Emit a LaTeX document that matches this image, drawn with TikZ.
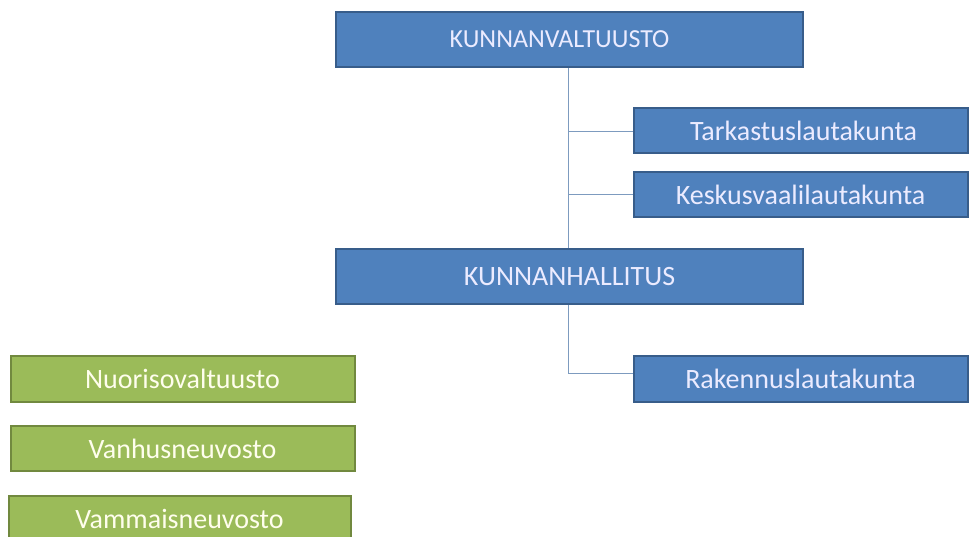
\documentclass[tikz,border=0pt]{standalone}
\usepackage{fontspec}
\setmainfont{Carlito}
\definecolor{bfill}{HTML}{4F81BD}
\definecolor{bdraw}{HTML}{385D8A}
\definecolor{gfill}{HTML}{9BBB59}
\definecolor{gdraw}{HTML}{71893F}
\definecolor{conn}{HTML}{7D9BBF}
\begin{document}
\begin{tikzpicture}[x=1pt,y=-1pt,
  boxbase/.style={line width=2pt,inner sep=0pt,font=\fontsize{28}{32}\selectfont},
  bluebox/.style={boxbase,draw=bdraw,fill=bfill,text=white!92!blue},
  greenbox/.style={boxbase,draw=gdraw,fill=gfill,text=white!93!yellow},
  capsfont/.style={font=\fontsize{26}{30}\selectfont},
  link/.style={draw=conn,line width=1pt}]
\useasboundingbox (0,0) rectangle (969,537);
\begin{scope}
\clip (0,0) rectangle (969,537);
\node[bluebox,capsfont,minimum width=467pt,minimum height=55pt] (kv) at (569.5,39.5) {KUNNANVALTUUSTO\hspace*{20pt}};
\node[bluebox,minimum width=334pt,minimum height=45pt] (tl) at (800.5,130.5) {\hspace*{6pt}Tarkastuslautakunta};
\node[bluebox,minimum width=334pt,minimum height=45pt] (kl) at (800.5,194.5) {Keskusvaalilautakunta};
\node[bluebox,minimum width=467pt,minimum height=55pt] (kh) at (569.5,276.5) {KUNNANHALLITUS};
\node[bluebox,minimum width=334pt,minimum height=46pt] (rl) at (800.5,379) {Rakennuslautakunta};
\node[greenbox,minimum width=344pt,minimum height=46pt] (nv) at (182.5,378.5) {Nuorisovaltuusto};
\node[greenbox,minimum width=344pt,minimum height=45pt] (vn) at (182.5,448.5) {Vanhusneuvosto};
\node[greenbox,minimum width=342pt,minimum height=46pt] (vm) at (179.5,519) {Vammaisneuvosto};
\end{scope}
\coordinate (c1) at (568,132);
\coordinate (c2) at (568,195);
\coordinate (c3) at (568,373);
\draw[link] (kv.south -| c1) -- (kh.north -| c1);
\draw[link] (c1) -- (c1 -| tl.west);
\draw[link] (c2) -- (c2 -| kl.west);
\draw[link] (kh.south -| c3) -- (c3) -- (c3 -| rl.west);
\end{tikzpicture}
\end{document}
